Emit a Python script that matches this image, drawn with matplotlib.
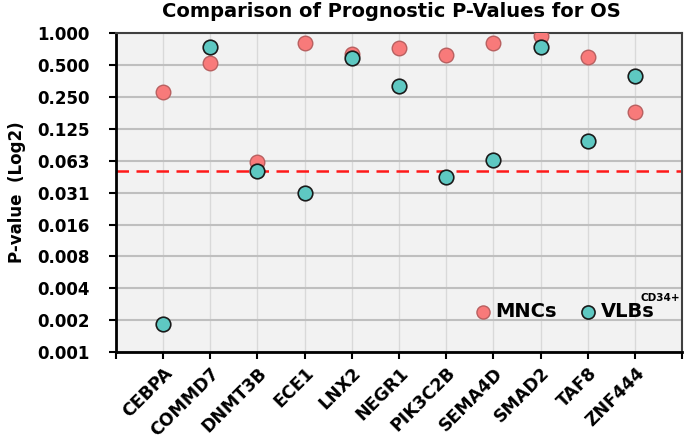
import matplotlib
matplotlib.use('Agg')
import matplotlib.pyplot as plt
import numpy as np

# dane
geny = ['CEBPA', 'COMMD7', 'DNMT3B', 'ECE1', 'LNX2', 'NEGR1',
        'PIK3C2B', 'SEMA4D', 'SMAD2', 'TAF8', 'ZNF444']
p_mnc = [0.28, 0.52, 0.061, 0.80, 0.63, 0.73, 0.62, 0.80, 0.94, 0.59, 0.18]
p_vlb = [0.0018, 0.74, 0.050, 0.031, 0.58, 0.32, 0.044, 0.064, 0.74, 0.096, 0.39]
y_ticki = [1.0, 0.5, 0.25, 0.125, 0.0625, 0.03125, 0.015625,
           0.0078125, 0.00390625, 0.001953125, 0.0009765625]
y_etykiety = ['1.000', '0.500', '0.250', '0.125', '0.063', '0.031',
              '0.016', '0.008', '0.004', '0.002', '0.001']
prog = 0.05

plt.rcParams['font.family'] = ['DejaVu Sans']
plt.rcParams['font.weight'] = 'bold'

fig = plt.figure(figsize=(6.85, 4.48), dpi=100)
ax = fig.add_axes([0.169, 0.214, 0.827, 0.712])
ax.set_facecolor('#F2F2F2')

x = np.arange(1, len(geny) + 1)

ax.axhline(prog, color='#FF1A1A', linestyle=(0, (5, 3)), linewidth=1.8, zorder=2)
ax.scatter(x, p_mnc, s=110, color='#F87A7A', edgecolor='#B86060', linewidth=1.0,
           zorder=3, label='MNCs')
ax.scatter(x, p_vlb, s=110, color='#5EC8C2', edgecolor='#1A1A1A', linewidth=1.2,
           zorder=4, label='VLBs')

ax.set_yscale('log', base=2)
ax.set_ylim(y_ticki[-1], y_ticki[0])
ax.set_yticks(y_ticki)
ax.set_yticklabels(y_etykiety, fontsize=12, fontweight='bold')
ax.minorticks_off()

ax.set_xlim(0, len(geny) + 1)
ax.set_xticks(np.arange(0, len(geny) + 2))
ax.set_xticklabels([''] + geny + [''], rotation=45, ha='right', rotation_mode='anchor',
                   fontsize=12.5, fontweight='bold')

ax.grid(axis='y', color='#BFBFBF', linewidth=1.5, zorder=0)
ax.grid(axis='x', color='#D9D9D9', linewidth=1.0, zorder=0)
ax.set_axisbelow(True)

for s in ['left', 'bottom']:
    ax.spines[s].set_linewidth(2)
    ax.spines[s].set_color('black')
for s in ['top', 'right']:
    ax.spines[s].set_linewidth(1.5)
    ax.spines[s].set_color('#404040')
ax.tick_params(axis='both', direction='out', length=5, width=1.5, color='black')
ax.tick_params(axis='y', pad=14)

ax.set_ylabel('P-value  (Log2)', fontsize=12, fontweight='bold', labelpad=8)
ax.text(0.486, 1.069, 'Comparison of Prognostic P-Values for OS', fontsize=14,
        fontweight='bold', ha='center', va='center', transform=ax.transAxes)

leg = ax.legend(loc='lower right', bbox_to_anchor=(0.975, 0.055), ncol=2, frameon=False,
                prop={'size': 14, 'weight': 'bold'}, handletextpad=-0.35,
                columnspacing=0.6, markerscale=0.9, borderpad=0.2)

# indeks górny CD34+ przy drugiej etykiecie
fig.canvas.draw()
bb = leg.get_texts()[1].get_window_extent()
px, py = fig.transFigure.inverted().transform((bb.x1, bb.y1))
fig.text(px - 0.02, py - 0.002, 'CD34+', fontsize=7.5, fontweight='bold',
         ha='left', va='bottom')

fig.savefig('out.png', dpi=100)
